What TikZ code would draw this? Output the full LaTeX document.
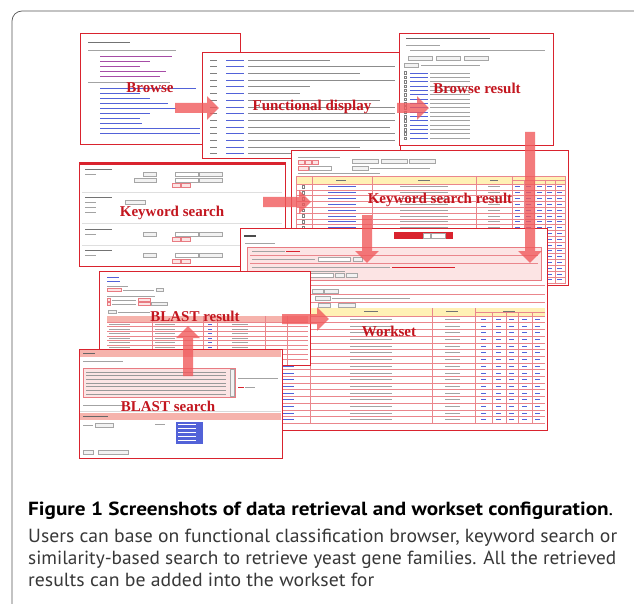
\documentclass[tikz,border=0pt]{standalone}
\usepackage{graphicx}
\usepackage{fontspec}
\newfontfamily\capfont{PT Sans}
\newfontfamily\tagfont{Liberation Serif}
\usetikzlibrary{arrows.meta}
\definecolor{shotred}{HTML}{D9232E}
\definecolor{tagred}{HTML}{C3161F}
\definecolor{arrowred}{HTML}{F05A5C}
\definecolor{pinkfill}{HTML}{FCE4E4}
\definecolor{headpink}{HTML}{F6B3AC}
\definecolor{headyel}{HTML}{FFF1B5}
\definecolor{linkblue}{HTML}{5262D8}
\definecolor{txtgray}{HTML}{A3A3A3}
\definecolor{framegray}{HTML}{555555}
\newcommand\capline[2]{\resizebox{#1}{\height}{#2}}

\begin{document}
\begin{tikzpicture}[x=1pt,y=-1pt,
  shot/.style={draw=shotred,line width=1.1pt,fill=white,anchor=north west,inner sep=0pt},
  txt/.style={draw=txtgray,line width=1pt},
  lnk/.style={draw=linkblue,line width=1pt},
  rowline/.style={draw=shotred!55,line width=0.5pt},
  btn/.style={draw=gray!70,fill=gray!10,line width=0.4pt},
  pinkbox/.style={draw=shotred!60,fill=pinkfill,line width=0.5pt},
  tag/.style={font=\tagfont\bfseries\fontsize{15}{15}\selectfont,text=tagred,inner sep=0pt},
  bigarrow/.style={draw=arrowred,line width=10pt,-{Triangle[length=12pt,width=23pt]}},
  captext/.style={font=\capfont\fontsize{19}{22}\selectfont,text=black!78,anchor=base west,inner sep=0pt}
]
\useasboundingbox (0,0) rectangle (634,604);
\fill[white] (0,0) rectangle (634,604);
\draw[framegray,line width=0.7pt,rounded corners=10pt] (12,640) -- (12,11) -- (660,11);

% browse
\node[shot,minimum width=160pt,minimum height=111pt] (browse) at (80,33) {};
\draw[txt,draw=black!55,line width=0.7pt] (88,42) -- (130,42);
\draw[txt] (88,51) -- (176,51);
\foreach \y/\l in {57/172,62/150,67/140,72/166,77/160} \draw[lnk,draw=violet!70] (100,\y) -- (\l,\y);
\draw[txt] (88,83) -- (170,83);
\foreach \y/\l in {89/196,94/140,99/150,104/168,109/176,114/150,119/140,124/142,129/200,134/200} \draw[lnk] (100,\y) -- (\l,\y);

% functional display
\node[shot,minimum width=198pt,minimum height=106pt] (func) at (202,52) {};
\foreach \l [count=\i] in {330,395,360,395,310,300,380,395,395,395,390,395,395,360,350} {
  \pgfmathsetmacro\y{53.5+6.7*\i}
  \draw[txt,draw=black!50] (210,\y) -- (217,\y);
  \draw[lnk] (226,\y) -- (244,\y);
  \draw[txt,draw=black!45] (248,\y) -- (\l,\y);
}

% browse result
\node[shot,minimum width=154pt,minimum height=112pt] (bres) at (399,33) {};
\draw[txt,draw=black!60] (406,39) -- (490,39);
\draw[txt,line width=0.6pt] (406,45) -- (440,45);
\draw[txt,line width=0.6pt] (410,50) -- (545,50);
\foreach \x in {408,436,464} \draw[btn] (\x,56) rectangle ++(24,4);
\draw[btn] (404,63) rectangle ++(14,4);
\draw[txt,line width=0.6pt] (421,65) -- (480,65);
\foreach \i in {0,...,15} {
  \pgfmathsetmacro\y{73+4.35*\i}
  \draw[gray,line width=0.4pt] (404,\y-1.3) rectangle ++(2.6,2.6);
  \draw[lnk,line width=0.9pt] (410,\y) -- (428,\y);
  \draw[txt,line width=0.9pt] (430,\y) -- (470,\y);
}

% keyword search
\node[shot,minimum width=206pt,minimum height=104pt] (kws) at (79,162) {};
\fill[shotred] (79,162) rectangle (285,165);
\foreach \y in {169,197,229,250} \draw[txt,draw=black!55,line width=0.8pt] (85,\y) -- (112,\y);
\foreach \y in {192,223,245} \draw[gray!25,line width=0.5pt] (82,\y) -- (282,\y);
\foreach \y in {174,234,255} {
  \draw[txt,line width=0.6pt] (85,\y) -- (96,\y);
  \draw[btn] (143,\y-2) rectangle (156,\y+2);
  \draw[btn,fill=white] (175,\y-2) rectangle (198,\y+2);
  \draw[btn] (199,\y-2) rectangle (222,\y+2);
}
\draw[btn] (134,178) rectangle (156,182);
\draw[btn,fill=white] (175,178) rectangle (198,182);
\draw[btn] (199,178) rectangle (222,182);
\foreach \y in {202,207,212} \draw[txt,line width=0.6pt] (85,\y) -- (96,\y);
\draw[btn] (125,200) rectangle (145,204);
\foreach \y in {185,239,261} {
  \draw[pinkbox] (172,\y-2) rectangle (180,\y+2);
  \draw[pinkbox] (181,\y-2) rectangle (190,\y+2);
}

% keyword search result
\node[shot,minimum width=277pt,minimum height=135pt] (kres) at (291,150) {};
\draw[txt,line width=0.6pt] (298,157) -- (340,157);
\foreach \x in {298,305,312} \draw[pinkbox] (\x,160) rectangle ++(6,4);
\foreach \x in {352,381,409} \draw[btn] (\x,159) rectangle ++(26,4);
\draw[pinkbox] (298,166) rectangle ++(10,4);
\draw[btn,fill=white] (309,166) rectangle ++(22,4);
\draw[btn] (352,166) rectangle ++(16,4);
\draw[txt,line width=0.6pt] (370,168) -- (430,168);
\draw[txt,line width=0.6pt] (298,173) -- (380,173);
\fill[headyel] (296,176) rectangle (565,184);
\foreach \x/\l in {336/10,418/12,490/8,533/9} \draw[txt,draw=black!55,line width=0.8pt] (\x,180) -- ++(\l,0);
\foreach \i in {0,...,16} {
  \pgfmathsetmacro\y{184+5.8*\i}
  \draw[rowline] (296,\y) -- (565,\y);
  \draw[gray,line width=0.3pt] (302,\y+1.6) rectangle ++(2.6,2.6);
  \draw[lnk,line width=0.8pt] (328,\y+2.9) -- (356,\y+2.9);
  \draw[txt,line width=0.8pt] (400,\y+2.9) -- (448,\y+2.9);
  \draw[txt,line width=0.8pt] (488,\y+2.9) -- (500,\y+2.9);
  \foreach \x in {515,526,537,547,557} \draw[lnk,line width=0.8pt] (\x,\y+2.9) -- ++(5,0);
}
\draw[rowline] (296,176) rectangle (565,283);
\foreach \x in {312,372,476,512} \draw[rowline] (\x,176) -- (\x,283);
\foreach \x in {524,534,545,555} \draw[rowline] (\x,180) -- (\x,283);
\draw[rowline] (512,180) -- (565,180);

% workset
\node[shot,minimum width=307pt,minimum height=202pt] (wset) at (240,228) {};
\draw[txt,draw=black!70,line width=1.2pt] (244,236) -- (256,236);
\draw[txt,line width=0.6pt] (245,243) -- (275,243);
\fill[shotred] (394,232) rectangle (453,239);
\draw[btn,fill=white] (423,233) rectangle (430,238);
\draw[btn,fill=white] (431,233) rectangle (445,238);
\draw[pinkbox] (247,247) rectangle (541,280);
\foreach \y in {255,263} \draw[rowline] (250,\y) -- (538,\y);
\draw[txt,line width=0.6pt] (252,251) -- (285,251);
\draw[lnk,draw=shotred,line width=0.6pt] (286,251) -- (300,251);
\draw[txt,line width=0.6pt] (252,259) -- (315,259);
\draw[btn,fill=white] (318,257) rectangle (350,261);
\draw[btn] (353,257) rectangle (362,261);
\draw[txt,line width=0.6pt] (252,267) -- (390,267);
\draw[lnk,draw=shotred,line width=0.6pt] (392,267) -- (455,267);
\draw[txt,line width=0.6pt] (252,271) -- (345,271);
\draw[btn,fill=white] (300,273) rectangle (333,277);
\draw[btn] (335,273) rectangle (344,277);
\draw[btn] (346,273) rectangle (357,277);
\foreach \y in {285,294,302,308} \draw[rowline,line width=0.7pt] (243,\y) -- (545,\y);
\draw[btn] (312,289) rectangle (323,293);
\draw[btn] (324,289) rectangle (338,293);
\draw[btn] (315,296) rectangle (330,300);
\draw[txt,line width=0.6pt] (332,298) -- (410,298);
\draw[btn] (318,303) rectangle (330,307);
\draw[btn] (338,303) rectangle (355,307);
\fill[headyel] (282,308) rectangle (545,316);
\foreach \x/\l in {364/14,446/12,503/12} \draw[txt,draw=black!55,line width=0.8pt] (\x,311) -- ++(\l,0);
\foreach \i in {0,...,15} {
  \pgfmathsetmacro\y{316+6.7*\i}
  \draw[rowline] (282,\y) -- (545,\y);
  \draw[lnk,line width=0.8pt] (283,\y+3.3) -- (294,\y+3.3);
  \draw[txt,line width=0.8pt] (350,\y+3.3) -- (392,\y+3.3);
  \draw[txt,line width=0.8pt] (445,\y+3.3) -- (460,\y+3.3);
  \foreach \x in {481,496,509,522,535} \draw[lnk,line width=0.8pt] (\x,\y+3.3) -- ++(5,0);
}
\draw[rowline] (282,423) -- (545,423);
\foreach \x in {310,432,475} \draw[rowline] (\x,308) -- (\x,423);
\foreach \x in {492,506,518,532} \draw[rowline] (\x,312) -- (\x,423);
\draw[rowline] (475,312) -- (545,312);

% blast result
\node[shot,minimum width=211pt,minimum height=94pt] (blres) at (99,271) {};
\draw[lnk,line width=0.7pt] (107,277) -- (119,277);
\draw[lnk,line width=0.7pt] (107,281) -- (120,281);
\draw[txt,line width=0.6pt] (107,286) -- (128,286);
\draw[pinkbox] (107,288) rectangle (121,291);
\draw[txt,line width=0.6pt] (123,290) -- (154,290);
\draw[btn] (156,288) rectangle (163,291);
\draw[txt,line width=0.6pt] (107,296) -- (155,296);
\draw[pinkbox] (107,298) rectangle (110,301);
\draw[txt,line width=0.6pt] (112,300) -- (136,300);
\draw[pinkbox] (138,298) rectangle (150,301);
\draw[pinkbox] (107,302) rectangle (110,305);
\draw[txt,line width=0.6pt] (112,304) -- (136,304);
\draw[pinkbox] (138,302) rectangle (150,305);
\draw[btn] (151,302) rectangle (167,305);
\draw[btn] (108,310) rectangle (116,313);
\draw[txt,line width=0.6pt] (118,312) -- (150,312);
\fill[headpink] (107,316) rectangle (308,322);
\foreach \i in {0,...,8} {
  \pgfmathsetmacro\y{322+4.6*\i}
  \draw[rowline] (107,\y) -- (308,\y);
  \draw[txt,line width=0.6pt] (109,\y+2.3) -- (130,\y+2.3);
  \draw[txt,line width=0.6pt] (155,\y+2.3) -- (175,\y+2.3);
  \draw[lnk,line width=0.6pt] (208,\y+2.3) -- (212,\y+2.3);
  \draw[txt,line width=0.6pt] (232,\y+2.3) -- (248,\y+2.3);
}
\foreach \x in {152,203,217,265,287} \draw[rowline] (\x,316) -- (\x,365);

% blast search
\node[shot,minimum width=203pt,minimum height=109pt] (blsrch) at (79,349) {};
\fill[headpink] (80,350) rectangle (281,357);
\draw[txt,draw=black!60,line width=0.7pt] (83,353.5) -- (95,353.5);
\draw[txt,line width=0.6pt] (83,361) -- (123,361);
\draw[pinkbox] (83,368) rectangle (235,397);
\draw[btn] (230,369) rectangle (234,396);
\foreach \i in {0,...,6} {
  \pgfmathsetmacro\y{372+3.7*\i}
  \draw[txt,draw=black!40,line width=0.7pt] (86,\y) -- (226,\y);
}
\draw[txt,line width=0.6pt] (238,378) -- (278,378);
\draw[lnk,draw=shotred,line width=0.6pt] (238,387) -- (244,387);
\draw[txt,line width=0.6pt] (245,387) -- (255,387);
\draw[txt,line width=0.6pt] (83,405) -- (125,405);
\draw[gray!30,line width=0.5pt] (80,411) -- (281,411);
\fill[headpink] (80,413) rectangle (281,420);
\draw[txt,draw=black!60,line width=0.7pt] (83,416.5) -- (108,416.5);
\draw[txt,line width=0.6pt] (83,425) -- (93,425);
\draw[btn] (95,423) rectangle (113,427);
\draw[txt,line width=0.6pt] (155,424) -- (165,424);
\fill[linkblue] (176,422) rectangle (203,444);
\foreach \i in {0,...,4} \draw[white,line width=0.6pt] (178,424.5+4*\i) -- (196,424.5+4*\i);
\draw[btn] (83,450) rectangle (93,454);
\draw[btn] (98,450) rectangle (128,454);

% arrows
\coordinate (a1s) at (175,108);  \coordinate (a1e) at (219,108);
\coordinate (a2s) at (397,108);  \coordinate (a2e) at (429,108);
\coordinate (a3s) at (263,202);  \coordinate (a3e) at (311,202);
\coordinate (a4s) at (367,215);  \coordinate (a4e) at (367,263);
\coordinate (a5s) at (530,132);  \coordinate (a5e) at (530,263);
\coordinate (a6s) at (282,319);  \coordinate (a6e) at (329,319);
\coordinate (a7s) at (188,376);  \coordinate (a7e) at (188,326);
\begin{scope}[transparency group,opacity=0.8]
  \draw[bigarrow] (a1s) -- (a1e);
  \draw[bigarrow] (a2s) -- (a2e);
  \draw[bigarrow] (a3s) -- (a3e);
  \draw[bigarrow] (a4s) -- (a4e);
  \draw[bigarrow] (a5s) -- (a5e);
  \draw[bigarrow] (a6s) -- (a6e);
  \draw[bigarrow] (a7s) -- (a7e);
\end{scope}

% labels
\node[tag] (tbrowse) at (150,88) {Browse};
\node[tag] (tfunc) at (312,107) {Functional display};
\node[tag] (tbres) at (477,88) {Browse result};
\node[tag] (tkws) at (172,213) {Keyword search};
\node[tag] (tkres) at (440,200) {Keyword search result};
\node[tag] (twset) at (389,331) {Workset};
\node[tag] (tblres) at (195,316) {BLAST result};
\node[tag] (tblsrch) at (168,406) {BLAST search};

% caption
\node[captext,text=black] (cap0) at (28,515) {\capline{585pt}{\textbf{Figure 1 Screenshots of data retrieval and workset configuration}.}};
\node[captext] (cap1) at (28,542) {\capline{589pt}{Users can base on functional classification browser, keyword search or}};
\node[captext] (cap2) at (28,564) {\capline{588pt}{similarity-based search to retrieve yeast gene families. All the retrieved}};
\node[captext] (cap3) at (28,586) {\capline{346pt}{results can be added into the workset for}};
\end{tikzpicture}
\end{document}
